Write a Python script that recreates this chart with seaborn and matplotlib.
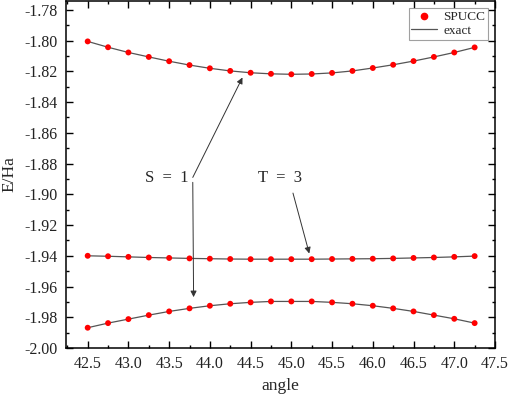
import matplotlib
matplotlib.use("Agg")
import matplotlib.pyplot as plt
from matplotlib.lines import Line2D
from matplotlib.ticker import MultipleLocator, FormatStrFormatter
import seaborn as sns
import pandas as pd

# angles (degrees) and energies (Ha)
angle = [42.5, 42.75, 43.0, 43.25, 43.5, 43.75, 44.0, 44.25, 44.5, 44.75,
         45.0, 45.25, 45.5, 45.75, 46.0, 46.25, 46.5, 46.75, 47.0, 47.25]

s1_upper = [-1.8005, -1.8043, -1.8077, -1.8106, -1.8134, -1.8159, -1.8180, -1.8197, -1.8209, -1.8216,
            -1.8219, -1.8217, -1.8210, -1.8197, -1.8178, -1.8157, -1.8133, -1.8106, -1.8077, -1.8044]
t3 = [-1.9400, -1.9403, -1.9407, -1.9411, -1.9414, -1.9417, -1.9419, -1.9421, -1.9422, -1.9422,
      -1.9422, -1.9422, -1.9421, -1.9420, -1.9419, -1.9417, -1.9414, -1.9411, -1.9407, -1.9402]
s1_lower = [-1.9868, -1.9838, -1.9812, -1.9786, -1.9762, -1.9742, -1.9725, -1.9712, -1.9703, -1.9697,
            -1.9697, -1.9697, -1.9703, -1.9712, -1.9725, -1.9742, -1.9762, -1.9786, -1.9810, -1.9838]

df = pd.DataFrame({
    'angle': angle * 3,
    'E': s1_upper + t3 + s1_lower,
    'state': ['S1 upper'] * 20 + ['T3'] * 20 + ['S1 lower'] * 20,
})

sns.set_style("ticks")
plt.rcParams['font.family'] = ['Liberation Serif', 'DejaVu Serif']

fig = plt.figure(figsize=(5.12, 3.96), dpi=100)
ax = fig.add_axes([0.1283, 0.1212, 0.8385, 0.8763])

# "exact" curves
sns.lineplot(data=df, x='angle', y='E', units='state', estimator=None,
             color='#555555', linewidth=0.9, ax=ax, legend=False)
# SPUCC points
sns.scatterplot(data=df, x='angle', y='E', color='#ff0000', s=18,
                edgecolor='none', ax=ax, legend=False, zorder=3)

ax.set_xlim(42.23, 47.5)
ax.set_ylim(-2.0, -1.7742)
ax.xaxis.set_major_locator(MultipleLocator(0.5))
ax.xaxis.set_minor_locator(MultipleLocator(0.25))
ax.yaxis.set_major_locator(MultipleLocator(0.02))
ax.yaxis.set_minor_locator(MultipleLocator(0.01))
ax.xaxis.set_major_formatter(FormatStrFormatter('%.1f'))
ax.yaxis.set_major_formatter(FormatStrFormatter('%.2f'))
ax.tick_params(which='both', direction='in', top=True, right=True, width=1, color='black')
ax.tick_params(which='major', length=5, labelsize=11.5, pad=6, labelcolor='#222222')
ax.tick_params(which='minor', length=2.5)
ax.tick_params(axis='x', which='both', labeltop=False)
ax.tick_params(axis='y', which='both', labelright=False)
for sp in ax.spines.values():
    sp.set_visible(True)
    sp.set_linewidth(1.1)
    sp.set_color('black')

ax.set_xlabel('angle', fontsize=12.5, labelpad=4)
ax.set_ylabel('E/Ha', fontsize=12.5, labelpad=5)

# annotations
arrow = dict(arrowstyle='-|>', color='#333333', lw=0.7, mutation_scale=9, shrinkA=0, shrinkB=0)
ax.text(43.47, -1.8896, 'S  =  1', fontsize=12, ha='center', va='center')
ax.text(44.86, -1.8896, 'T  =  3', fontsize=12, ha='center', va='center')
ax.annotate('', xy=(44.40, -1.8240), xytext=(43.79, -1.8890), arrowprops=arrow)
ax.annotate('', xy=(43.80, -1.9669), xytext=(43.79, -1.8922), arrowprops=arrow)
ax.annotate('', xy=(45.22, -1.9385), xytext=(45.02, -1.8992), arrowprops=arrow)

handles = [Line2D([], [], marker='o', color='#ff0000', linestyle='none', markersize=4.5),
           Line2D([], [], color='#555555', linewidth=0.9)]
leg = ax.legend(handles, ['SPUCC', 'exact'], loc='upper right', fontsize=9.5,
                frameon=True, fancybox=False, edgecolor='#888888',
                borderpad=0.2, labelspacing=0.12, handlelength=1.9,
                handletextpad=0.5, borderaxespad=0.55)
leg.get_frame().set_linewidth(0.8)

fig.savefig('out.png', dpi=100)
